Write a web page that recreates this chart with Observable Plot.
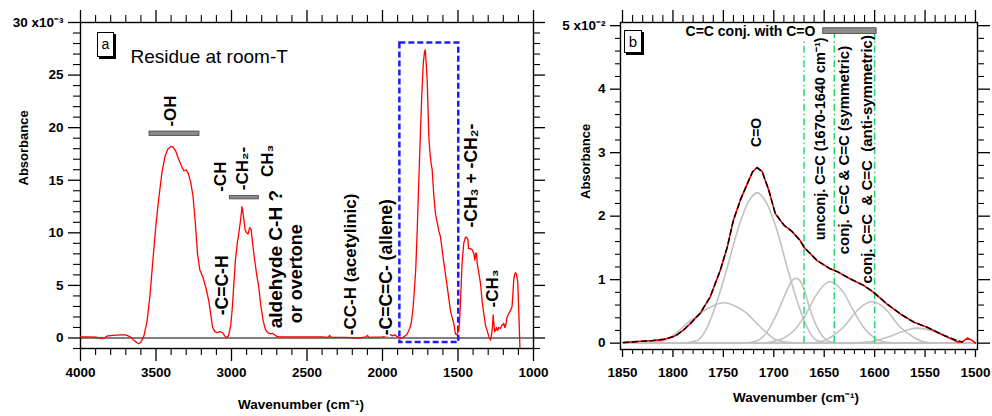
<!DOCTYPE html>
<html><head><meta charset="utf-8">
<script src="https://cdn.jsdelivr.net/npm/d3@7"></script>
<script src="https://cdn.jsdelivr.net/npm/@observablehq/plot@0.6"></script>
<style>
body{margin:0;background:#fff;font-family:"Liberation Sans",Arial,Helvetica,sans-serif;}
#wrap{position:relative;width:992px;height:416px;display:flex;overflow:hidden;}
svg text{white-space:pre;}
.tag{position:absolute;box-sizing:border-box;border:1px solid #000;box-shadow:2px 2px 0 #000;background:#fff;font-family:"Liberation Sans",Arial,sans-serif;text-align:center;color:#000;}
</style></head><body>
<div id="wrap"><div id="pa"></div><div id="pb"></div>
<div class="tag" style="left:97px;top:32px;width:17px;height:25px;line-height:22px;font-size:14px;">a</div>
<div class="tag" style="left:624px;top:30px;width:18px;height:23px;line-height:21px;font-size:15px;">b</div>
</div>
<script>
// ---------- Panel a data (absorbance x10^-3 vs wavenumber) ----------
const spectrumA = [
[4000,0.1],[3950,0.1],[3900,0.08],[3870,0.0],[3850,-0.05],[3820,0.2],[3780,0.25],[3740,0.3],[3700,0.3],[3670,0.1],[3640,-0.3],[3615,-0.55],[3600,-0.4],[3580,0.2],[3560,1.5],[3540,4.0],[3520,7.5],[3500,10.8],[3483,13.1],[3460,15.8],[3440,17.3],[3420,18.0],[3400,18.2],[3390,18.2],[3370,17.8],[3350,17.0],[3330,16.3],[3315,15.9],[3300,16.0],[3285,15.6],[3270,14.8],[3255,13.5],[3240,11.0],[3225,8.0],[3210,6.5],[3190,5.8],[3170,4.8],[3150,3.5],[3135,2.0],[3125,1.0],[3110,0.6],[3095,0.5],[3075,0.6],[3060,0.5],[3045,0.2],[3035,0.05],[3020,0.2],[3005,1.2],[2995,2.8],[2985,5.0],[2974,7.4],[2962,9.0],[2952,9.9],[2940,11.2],[2930,12.5],[2920,11.5],[2910,10.3],[2900,10.0],[2890,9.9],[2880,10.5],[2870,10.3],[2860,9.0],[2850,7.8],[2835,6.2],[2820,4.9],[2805,3.0],[2790,1.6],[2775,0.8],[2760,0.5],[2740,0.4],[2730,0.45],[2715,0.3],[2700,0.15],[2680,0.1],[2600,0.1],[2500,0.1],[2400,0.1],[2360,0.05],[2350,0.25],[2340,0.05],[2250,0.05],[2150,0.0],[2110,0.1],[2100,0.25],[2090,0.05],[2000,0.1],[1960,0.2],[1950,0.35],[1935,0.2],[1920,0.3],[1905,0.15],[1885,0.0],[1870,0.0],[1850,0.2],[1836,0.4],[1820,0.9],[1810,1.4],[1800,2.5],[1792,3.9],[1780,6.5],[1770,10.3],[1760,14.8],[1748,19.8],[1740,23.0],[1730,26.1],[1722,27.2],[1717,27.4],[1711,26.2],[1704,24.5],[1698,21.5],[1693,19.1],[1685,17.5],[1678,16.6],[1671,16.0],[1660,13.5],[1649,11.8],[1638,11.0],[1627,10.2],[1616,9.6],[1600,7.8],[1583,6.1],[1565,4.2],[1550,2.6],[1540,2.0],[1528,1.4],[1517,0.4],[1510,0.3],[1503,0.4],[1495,1.0],[1490,1.4],[1482,4.0],[1473,7.1],[1462,9.0],[1450,9.6],[1444,9.6],[1435,9.4],[1430,8.5],[1420,8.5],[1406,8.4],[1395,8.0],[1388,7.4],[1382,8.1],[1377,8.0],[1373,7.1],[1360,6.0],[1351,5.2],[1340,3.5],[1329,2.3],[1318,1.2],[1307,0.7],[1295,0.1],[1285,-0.2],[1278,0.3],[1272,1.0],[1267,2.2],[1263,1.5],[1258,0.6],[1252,0.7],[1245,1.0],[1238,0.7],[1230,1.0],[1219,0.9],[1210,1.2],[1200,1.3],[1197,1.4],[1190,1.0],[1186,1.1],[1180,1.5],[1175,2.0],[1164,2.3],[1153,2.6],[1142,3.0],[1135,4.5],[1131,5.5],[1124,6.1],[1118,6.2],[1113,6.1],[1108,5.7],[1104,5.2],[1100,3.5],[1097,2.3],[1093,0.5],[1090,-0.9]
];
const boxA = [{x1:1885, x2:1495, y1:-0.44, y2:28.04}];
const barsA = [
  {x1:3543, x2:3212, y1:19.21, y2:19.63},
  {x1:3011, x2:2819, y1:13.18, y2:13.5}
];
const labelsA = [
  {t:"-OH", x:3404, y:20.1, fs:17},
  {t:"-CH", x:3073, y:13.9, fs:17},
  {t:"-CH₂-", x:2924, y:14.05, fs:17},
  {t:"-C=C-H", x:3060, y:2.16, fs:17.5},
  {t:"aldehyde C-H ?", x:2709, y:0.92, fs:19},
  {t:"CH₃", x:2762, y:15.3, fs:17},
  {t:"or overtone", x:2570, y:1.4, fs:18},
  {t:"-CC-H (acetylinic)", x:2212, y:0.26, fs:17},
  {t:"-C=C=C- (allene)", x:1974, y:0.26, fs:17.5},
  {t:"-CH₃ + -CH₂-", x:1411, y:10.5, fs:17.5},
  {t:"-CH₃", x:1268, y:2.9, fs:17}
];
const xMajorA = [1000,1500,2000,2500,3000,3500,4000];
const xMinorA = d3.range(1000, 4001, 100).filter(v => v % 500 !== 0);
const yMajorA = [0,5,10,15,20,25,30];
const yMinorA = d3.range(-1, 31).filter(v => v % 5 !== 0);

// ---------- Panel b data (absorbance x10^-2 vs wavenumber) ----------
const measuredB = [
[1849,0.01],[1840,0.02],[1832,0.03],[1820,0.04],[1809,0.06],[1800,0.1],[1796,0.13],[1790,0.2],[1782.6,0.31],[1773,0.47],[1763,0.73],[1753,1.15],[1746,1.52],[1740,1.94],[1733,2.26],[1726,2.52],[1721,2.70],[1716.5,2.77],[1711.5,2.70],[1705,2.41],[1698.5,2.04],[1690,1.86],[1682,1.76],[1674,1.62],[1670,1.51],[1657,1.30],[1644,1.17],[1637.5,1.13],[1624,1.01],[1611,0.91],[1601,0.80],[1588,0.62],[1574.5,0.46],[1561,0.33],[1548,0.25],[1531,0.12],[1518,0.02],[1513,0.02],[1508,0.08],[1503,0.04],[1500,0.0]
];
const fitB = [
[1849,0.01],[1840,0.02],[1832,0.03],[1820,0.04],[1809,0.06],[1800,0.1],[1796,0.13],[1790,0.2],[1782.6,0.31],[1773,0.47],[1763,0.73],[1753,1.15],[1746,1.52],[1740,1.94],[1733,2.26],[1726,2.52],[1721,2.70],[1716.5,2.76],[1711.5,2.70],[1705,2.41],[1698.5,2.04],[1690,1.86],[1682,1.76],[1674,1.62],[1670,1.51],[1657,1.30],[1644,1.17],[1637.5,1.13],[1624,1.01],[1611,0.91],[1601,0.80],[1588,0.62],[1574.5,0.46],[1561,0.33],[1548,0.25],[1531,0.12],[1518,0.04],[1513,0.02]
];
const comp1 = [[1850,0],[1835,0],[1820,0.015],[1809,0.04],[1798,0.14],[1786,0.31],[1777,0.42],[1769,0.51],[1760,0.59],[1749,0.636],[1738,0.58],[1726,0.46],[1720,0.36],[1713,0.25],[1706,0.15],[1700,0.07],[1692,0.03],[1680,0.005],[1665,0],[1500,0]];
const comp2 = [[1850,0],[1790,0],[1776,0.04],[1766,0.25],[1756,0.67],[1746,1.20],[1736,1.77],[1726.4,2.19],[1721,2.32],[1716.5,2.37],[1712,2.32],[1706.6,2.19],[1696.7,1.77],[1686.8,1.20],[1677,0.67],[1667,0.25],[1657,0.04],[1645,0],[1500,0]];
const comp3 = [[1850,0],[1728,0],[1716,0.04],[1707,0.17],[1697,0.46],[1687,0.83],[1683,0.96],[1678,1.02],[1673,0.96],[1670,0.85],[1664,0.53],[1657,0.25],[1650.5,0.09],[1644,0.02],[1632,0],[1500,0]];
const comp4 = [[1850,0],[1715,0],[1700,0.03],[1690,0.08],[1680,0.2],[1670,0.41],[1657,0.78],[1650,0.92],[1644,0.97],[1638,0.92],[1631,0.80],[1621,0.51],[1611,0.25],[1601,0.09],[1591,0.02],[1575,0],[1500,0]];
const comp5 = [[1850,0],[1665,0],[1654,0.02],[1644,0.09],[1631,0.25],[1617.5,0.51],[1610,0.61],[1602.5,0.657],[1595,0.61],[1587.7,0.51],[1574.5,0.25],[1561,0.09],[1551,0.02],[1540,0],[1500,0]];
const comp6 = [[1850,0],[1625,0],[1615,0.01],[1601,0.03],[1588,0.09],[1574.5,0.17],[1565,0.22],[1558,0.236],[1551,0.225],[1544.5,0.2],[1531,0.12],[1518,0.04],[1505,0],[1500,0]];
const componentsB = [comp1, comp2, comp3, comp4, comp5, comp6];
const markerWn = [1670, 1640, 1600];
const markerTop = [4.79, 4.87, 4.87];
const barB = [{x1:1651, x2:1598, y1:4.87, y2:4.96}];
const labelsB = [
  {t:"C=O", x:1717.2, y:3.09, fs:14},
  {t:"unconj. C=C (1670-1640 cm⁻¹)", x:1653.5, y:1.62, fs:14.5},
  {t:"conj. C=C & C=C (symmetric)", x:1630, y:1.40, fs:15},
  {t:"conj. C=C  & C=C  (anti-symmetric)", x:1607.5, y:0.94, fs:15}
];
const xMajorB = [1500,1550,1600,1650,1700,1750,1800,1850];
const xMinorB = d3.range(1500, 1851, 10).filter(v => v % 50 !== 0);
const yMajorB = [0,1,2,3,4,5];
const yMinorB = d3.range(0, 26).filter(i => i % 5 !== 0).map(i => i * 0.2);

const FONT = '"Liberation Sans", Arial, Helvetica, sans-serif';

// outward tick marks drawn as short rules hugging the frame (fw, fh: frame size in px)
function tickRules(side, ticks, len, fw, fh, sw) {
  const o = {stroke: "#000", strokeWidth: sw};
  if (side === "bottom") return Plot.ruleX(ticks, {x: d => d, insetTop: fh - len, dy: len, ...o});
  if (side === "top") return Plot.ruleX(ticks, {x: d => d, insetBottom: fh - len, dy: -len, ...o});
  if (side === "left") return Plot.ruleY(ticks, {y: d => d, insetRight: fw - len, dx: -len, ...o});
  return Plot.ruleY(ticks, {y: d => d, insetLeft: fw - len, dx: len, ...o});
}

const FWA = 560 - 80 - 27, FHA = 416 - 22 - 68;
const plotA = Plot.plot({
  width: 560, height: 416,
  marginLeft: 80, marginRight: 27, marginTop: 22, marginBottom: 68,
  style: {fontFamily: FONT, fontSize: "13.5px", fontWeight: "bold", color: "#000", background: "white"},
  x: {domain: [4000, 1000]},
  y: {domain: [-1, 30]},
  marks: [
    Plot.frame({stroke: "#000", strokeWidth: 1.4}),
    Plot.axisX({anchor: "bottom", ticks: xMajorA, tickSize: 13, tickPadding: 6, tickFormat: d => String(d), label: null, strokeWidth: 1.3}),
    tickRules("bottom", xMinorA, 7, FWA, FHA, 1.1),
    tickRules("top", xMajorA, 12, FWA, FHA, 1.3),
    tickRules("top", xMinorA, 7, FWA, FHA, 1.1),
    Plot.axisY({anchor: "left", ticks: yMajorA, tickSize: 12, tickPadding: 5, tickFormat: d => d === 30 ? "30 x10⁻³" : String(d), label: null, strokeWidth: 1.3}),
    tickRules("left", yMinorA, 7, FWA, FHA, 1.1),
    tickRules("right", yMajorA, 12, FWA, FHA, 1.3),
    tickRules("right", yMinorA, 7, FWA, FHA, 1.1),
    Plot.ruleY([0], {stroke: "#000", strokeWidth: 1.2}),
    Plot.rect(boxA, {x1: "x1", x2: "x2", y1: "y1", y2: "y2", fill: "none", stroke: "#1c1cff", strokeWidth: 2.5, strokeDasharray: "6,3"}),
    Plot.line(spectrumA, {x: d => d[0], y: d => d[1], stroke: "#ff0000", strokeWidth: 1.3}),
    Plot.text(labelsA, {x: "x", y: "y", text: "t", rotate: -90, textAnchor: "start", fontSize: d => d.fs, fontWeight: "bold", fill: "#000", stroke: "white", strokeWidth: 4, paintOrder: "stroke"}),
    Plot.rect(barsA, {x1: "x1", x2: "x2", y1: "y1", y2: "y2", fill: "#8a8a8a", stroke: "#444", strokeWidth: 0.8}),
    Plot.text(["Residue at room-T"], {frameAnchor: "top-left", dx: 50, dy: 27, textAnchor: "start", fontSize: 19, fontWeight: "normal", fill: "#000"}),
    Plot.text(["Absorbance"], {frameAnchor: "left", dx: -57, rotate: -90, fontSize: 13, fontWeight: "bold", fill: "#000"}),
    Plot.text(["Wavenumber (cm⁻¹)"], {frameAnchor: "bottom", dx: -6, dy: 60, fontSize: 13.5, fontWeight: "bold", fill: "#000"})
  ]
});

const compMarks = componentsB.map(c => Plot.line(c, {x: d => d[0], y: d => d[1], stroke: "#c2c2c2", strokeWidth: 1.6, curve: "monotone-x"}));
const markerData = markerWn.map((w, i) => ({x: w, top: markerTop[i]}));

const FWB = 432 - 60 - 15, FHB = 416 - 22 - 67;
const plotB = Plot.plot({
  width: 432, height: 416,
  marginLeft: 60, marginRight: 15, marginTop: 22, marginBottom: 67,
  style: {fontFamily: FONT, fontSize: "13.5px", fontWeight: "bold", color: "#000", background: "white"},
  x: {domain: [1852, 1498]},
  y: {domain: [-0.1, 5.05]},
  marks: [
    Plot.frame({stroke: "#000", strokeWidth: 1.4}),
    Plot.axisX({anchor: "bottom", ticks: xMajorB, tickSize: 8, tickPadding: 10, tickFormat: d => String(d), label: null, strokeWidth: 1.3}),
    tickRules("bottom", xMinorB, 5, FWB, FHB, 1.1),
    tickRules("top", xMajorB, 12, FWB, FHB, 1.3),
    tickRules("top", xMinorB, 7, FWB, FHB, 1.1),
    Plot.axisY({anchor: "left", ticks: yMajorB, tickSize: 10, tickPadding: 5, tickFormat: d => d === 5 ? "5 x10⁻²" : String(d), label: null, strokeWidth: 1.3}),
    tickRules("left", yMinorB, 5, FWB, FHB, 1.1),
    tickRules("right", yMajorB, 13, FWB, FHB, 1.3),
    tickRules("right", yMinorB, 7, FWB, FHB, 1.1),
    ...compMarks,
    Plot.ruleX(markerData, {x: "x", y1: 0, y2: "top", stroke: "#22d36a", strokeWidth: 1.4, strokeDasharray: "7,3,1.5,3"}),
    Plot.line(measuredB, {x: d => d[0], y: d => d[1], stroke: "#ff0000", strokeWidth: 1.6}),
    Plot.line(fitB, {x: d => d[0], y: d => d[1], stroke: "#000", strokeWidth: 1.5, strokeDasharray: "5,4"}),
    Plot.rect(barB, {x1: "x1", x2: "x2", y1: "y1", y2: "y2", fill: "#8a8a8a", stroke: "#444", strokeWidth: 0.8}),
    Plot.text(["C=C conj. with C=O"], {x: [1658.7], y: [4.91], textAnchor: "end", fontSize: 14, fontWeight: "bold", fill: "#000"}),
    Plot.text(labelsB, {x: "x", y: "y", text: "t", rotate: -90, textAnchor: "start", fontSize: d => d.fs, fontWeight: "bold", fill: "#000"}),
    Plot.text(["Absorbance"], {frameAnchor: "left", dx: -35, dy: 13, rotate: -90, fontSize: 13, fontWeight: "bold", fill: "#000"}),
    Plot.text(["Wavenumber (cm⁻¹)"], {frameAnchor: "bottom", dx: -3, dy: 52, fontSize: 13.5, fontWeight: "bold", fill: "#000"})
  ]
});

document.getElementById("pa").appendChild(plotA);
document.getElementById("pb").appendChild(plotB);
</script>
</body></html>
